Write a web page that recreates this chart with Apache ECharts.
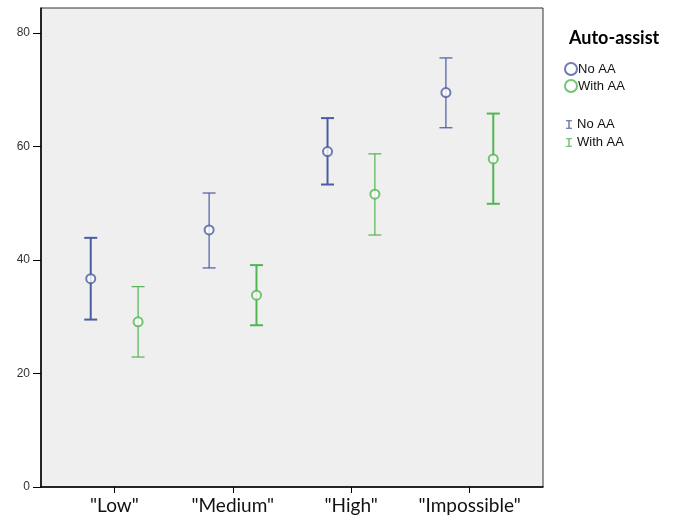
<!DOCTYPE html>
<html>
<head>
<meta charset="utf-8">
<script src="https://cdn.jsdelivr.net/npm/echarts@6/dist/echarts.min.js"></script>
<style>
  html, body { margin: 0; padding: 0; background: #fff; }
  #chart { width: 680px; height: 521px; }
</style>
</head>
<body>
<div id="chart"></div>
<script>
// Difficulty levels on the x axis
const categories = ['"Low"', '"Medium"', '"High"', '"Impossible"'];

// Group means and 95% CI bounds
const noAAMean  = [36.7, 45.3, 59.1, 69.5];
const noAALow   = [29.5, 38.6, 53.3, 63.3];
const noAAHigh  = [43.9, 51.8, 65.0, 75.6];

const withAAMean = [29.1, 33.8, 51.6, 57.8];
const withAALow  = [22.9, 28.5, 44.4, 49.9];
const withAAHigh = [35.3, 39.1, 58.7, 65.8];

const yTicks = [0, 20, 40, 60, 80];

const BLUE = '#4a5d9f';
const GREEN = '#52b552';
const OFFSET = 0.2;
// stroke weight per error bar (as rendered)
const noAAWidth = [2, 1.2, 2, 1.2];
const withAAWidth = [1.2, 2, 1.2, 2];

function barData(lo, hi, shift) {
  return lo.map((v, i) => [i + shift, v, hi[i], i]);
}
function meanData(m, shift) {
  return m.map((v, i) => [i + shift, v]);
}

function errorBar(color, widths) {
  return function (params, api) {
    const x = api.value(0);
    const p0 = api.coord([x, api.value(1)]);
    const p1 = api.coord([x, api.value(2)]);
    const w = widths[api.value(3)];
    const half = 6.5;
    const style = { stroke: color, lineWidth: w, fill: null };
    return {
      type: 'group',
      children: [
        { type: 'line', shape: { x1: p0[0], y1: p0[1], x2: p1[0], y2: p1[1] }, style },
        { type: 'line', shape: { x1: p0[0] - half, y1: p0[1], x2: p0[0] + half, y2: p0[1] }, style },
        { type: 'line', shape: { x1: p1[0] - half, y1: p1[1], x2: p1[0] + half, y2: p1[1] }, style }
      ]
    };
  };
}

const chart = echarts.init(document.getElementById('chart'), null, { renderer: 'canvas' });
const ibeam = 'path://M0,0H7V1.2H4.2V8.8H7V10H0V8.8H2.8V1.2H0Z';

chart.setOption({
  animation: false,
  backgroundColor: '#ffffff',
  grid: {
    left: 41, top: 8, right: 137, bottom: 34,
    show: true, backgroundColor: '#efefef', borderColor: '#333', borderWidth: 1
  },
  title: {
    text: 'Auto-assist',
    left: 564, top: 24,
    textStyle: { fontFamily: 'Lato', fontWeight: 'bold', fontSize: 18, color: '#000' }
  },
  legend: [
    {
      data: [{ name: 'No AA', icon: 'emptyCircle' }, { name: 'With AA', icon: 'emptyCircle' }],
      orient: 'vertical', left: 559, top: 57,
      itemWidth: 12, itemHeight: 12, itemGap: 3,
      textStyle: { fontFamily: 'Liberation Sans', fontSize: 13, color: '#111', padding: [0, 0, 0, -4] }
    },
    {
      data: [{ name: 'No AA CI', icon: ibeam }, { name: 'With AA CI', icon: ibeam }],
      formatter: n => n.replace(' CI', ''),
      orient: 'vertical', left: 561, top: 113,
      itemWidth: 6, itemHeight: 10, itemGap: 5,
      textStyle: { fontFamily: 'Liberation Sans', fontSize: 13, color: '#111' }
    }
  ],
  xAxis: {
    type: 'value',
    min: -0.62, max: 3.62,
    splitLine: { show: false },
    axisLine: { show: true, onZero: false, lineStyle: { color: '#000', width: 1.5 } },
    axisTick: { show: true, length: 6, customValues: [0, 1, 2, 3], lineStyle: { color: '#000' } },
    axisLabel: {
      customValues: [0, 1, 2, 3],
      formatter: v => categories[Math.round(v)],
      fontFamily: 'Lato', fontSize: 19, color: '#111', margin: 9
    }
  },
  yAxis: {
    type: 'value',
    min: 0, max: 84.4,
    splitLine: { show: false },
    axisLine: { show: true, onZero: false, lineStyle: { color: '#000', width: 1.5 } },
    axisTick: { show: true, length: 8, customValues: yTicks, lineStyle: { color: '#000' } },
    axisLabel: {
      customValues: yTicks,
      fontFamily: 'Liberation Sans', fontSize: 12, color: '#333', margin: 11
    }
  },
  series: [
    {
      name: 'No AA CI', type: 'custom', color: BLUE,
      renderItem: errorBar(BLUE, noAAWidth),
      data: barData(noAALow, noAAHigh, -OFFSET),
      encode: { x: 0, y: [1, 2] }, z: 2
    },
    {
      name: 'With AA CI', type: 'custom', color: GREEN,
      renderItem: errorBar(GREEN, withAAWidth),
      data: barData(withAALow, withAAHigh, OFFSET),
      encode: { x: 0, y: [1, 2] }, z: 2
    },
    {
      name: 'No AA', type: 'scatter', symbol: 'emptyCircle', symbolSize: 9,
      itemStyle: { color: BLUE, borderColor: BLUE, borderWidth: 1.2 },
      data: meanData(noAAMean, -OFFSET), z: 3
    },
    {
      name: 'With AA', type: 'scatter', symbol: 'emptyCircle', symbolSize: 9,
      itemStyle: { color: GREEN, borderColor: GREEN, borderWidth: 1.2 },
      data: meanData(withAAMean, OFFSET), z: 3
    }
  ]
});
</script>
</body>
</html>
